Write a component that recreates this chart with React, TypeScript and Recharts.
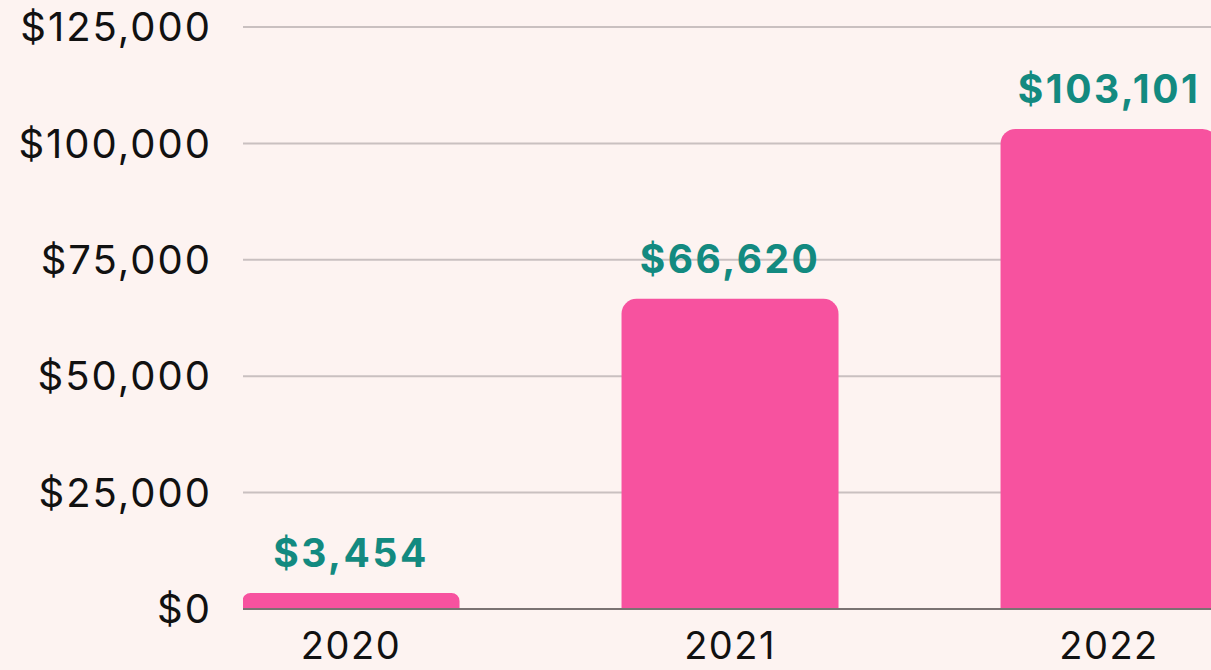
import { BarChart, Bar, XAxis, YAxis, CartesianGrid, LabelList } from "recharts";

const years = [2020, 2021, 2022];
const revenue = [3454, 66620, 103101];
const yTicks = [0, 25000, 50000, 75000, 100000, 125000];

const data = years.map((year, i) => ({ year, revenue: revenue[i] }));

const money = (v: number) => `$${v.toLocaleString("en-US")}`;

const FONT = "Inter, sans-serif";

export default function App() {
  return (
    <div
      style={{
        position: "fixed",
        left: 0,
        top: 0,
        width: 1211,
        height: 670,
        overflow: "hidden",
        background: "#fdf3f1",
        fontFamily: FONT,
      }}
    >
      <BarChart
        width={1211}
        height={670}
        data={data}
        margin={{ top: 27, right: 0, bottom: 0, left: 0 }}
      >
        <CartesianGrid vertical={false} stroke="#c9c0c0" strokeWidth={2} />
        <XAxis
          dataKey="year"
          type="number"
          domain={[2019.715, 2022.269]}
          allowDataOverflow
          ticks={years}
          height={61}
          tickSize={0}
          tickMargin={23}
          axisLine={{ stroke: "#7a7272", strokeWidth: 2 }}
          tick={{ fill: "#111", fontSize: 38, fontFamily: FONT, letterSpacing: 1.5 }}
        />
        <YAxis
          width={243}
          domain={[0, 125000]}
          ticks={yTicks}
          tickFormatter={money}
          tickSize={0}
          tickMargin={31}
          axisLine={false}
          tick={{ fill: "#111", fontSize: 40, fontFamily: FONT, letterSpacing: 2 }}
        />
        <Bar
          dataKey="revenue"
          fill="#f7529f"
          barSize={217}
          radius={[15, 15, 0, 0]}
          isAnimationActive={false}
        >
          <LabelList
            dataKey="revenue"
            position="top"
            offset={26}
            formatter={(v: any) => money(Number(v))}
            style={{
              fill: "#138a80",
              fontSize: 39,
              fontWeight: 700,
              fontFamily: FONT,
              letterSpacing: 2.5,
            }}
          />
        </Bar>
      </BarChart>
    </div>
  );
}
